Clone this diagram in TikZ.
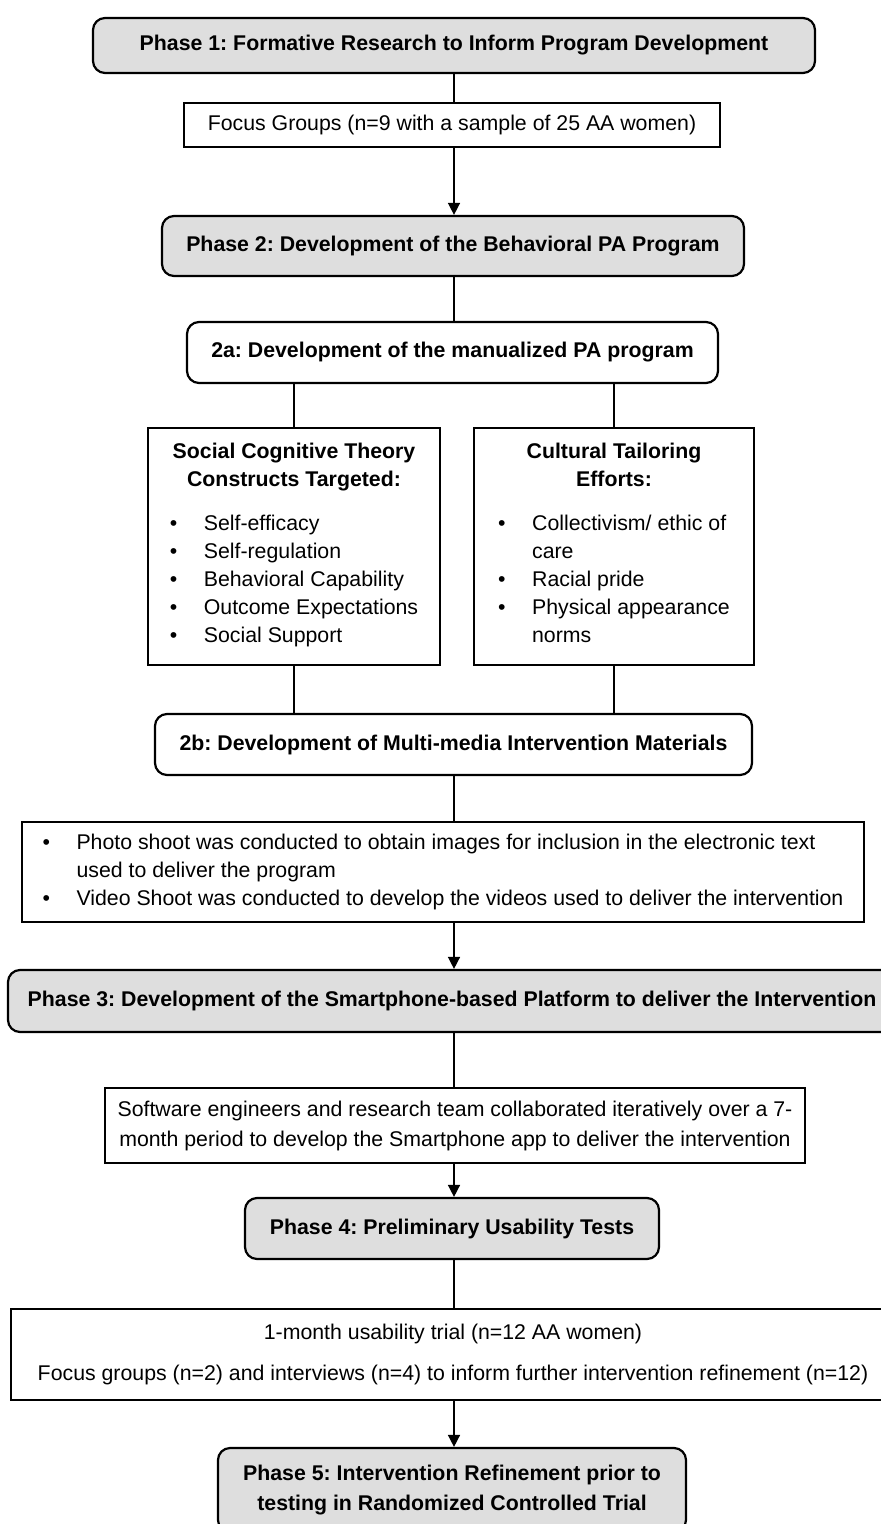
\documentclass[tikz,border=0pt]{standalone}
\usepackage{fontspec}
\setmainfont{Liberation Sans}
\usetikzlibrary{arrows.meta}
\frenchspacing
\tikzset{
  plainbox/.style={draw,line width=1.1pt,align=center,inner sep=3pt},
  phasebox/.style={plainbox,rounded corners=6pt,fill=black!13,font=\fontsize{10.65}{15}\selectfont\bfseries},
}
\newcommand{\itm}[1]{\makebox[17pt][l]{\textbullet}#1}
\begin{document}
\begin{tikzpicture}[x=0.5pt,y=-0.5pt,>={Triangle[length=6pt,width=6pt]},line width=0.75pt,
  font=\fontsize{10.65}{14}\selectfont]
\useasboundingbox (0,0) rectangle (881,1524);
\coordinate (spine) at (454,0);
% phase 1
\node[phasebox,minimum width=361pt,minimum height=27.5pt] (phaseA) at (454,45.5) {Phase 1: Formative Research to Inform Program Development};
\node[plainbox,minimum width=268pt,minimum height=22pt] (focus) at (452,125) {Focus Groups (n=9 with a sample of 25 AA women)};
% phase 2
\node[phasebox,minimum width=291pt,minimum height=30pt] (phaseB) at (453,246) {Phase 2: Development of the Behavioral PA Program};
\node[phasebox,fill=white,minimum width=265.5pt,minimum height=30.5pt] (devA) at (452.5,352.5) {2a: Development of the manualized PA program};
\node[plainbox,minimum width=146pt,minimum height=118.5pt] (sct) at (294,546.5) {\textbf{Social Cognitive Theory}\\\textbf{Constructs Targeted:}\\[8pt]
  \begin{tabular}[t]{@{}l@{}}\itm{Self-efficacy}\\\itm{Self-regulation}\\\itm{Behavioral Capability}\\\itm{Outcome Expectations}\\\itm{Social Support}\end{tabular}};
\node[plainbox,minimum width=140pt,minimum height=118.5pt] (cult) at (614,546.5) {\textbf{Cultural Tailoring}\\\textbf{Efforts:}\\[8pt]
  \begin{tabular}[t]{@{}l@{}}\itm{Collectivism/ ethic of}\\\hspace*{17pt}care\\\itm{Racial pride}\\\itm{Physical appearance}\\\hspace*{17pt}norms\end{tabular}};
\node[phasebox,fill=white,minimum width=298.5pt,minimum height=30.5pt] (devB) at (453.5,744.5) {2b: Development of Multi-media Intervention Materials};
\node[plainbox,align=left,minimum width=421pt,minimum height=50pt] (media) at (443,872) {\itm{Photo shoot was conducted to obtain images for inclusion in the electronic text}\\
  \hspace*{17pt}used to deliver the program\\\itm{Video Shoot was conducted to develop the videos used to deliver the intervention}};
% phase 3
\node[phasebox,minimum width=444pt,minimum height=31pt] (phaseC) at (452,1001) {Phase 3: Development of the Smartphone-based Platform to deliver the Intervention};
\node[plainbox,minimum width=350pt,minimum height=37.5pt,font=\fontsize{10.65}{15}\selectfont] (soft) at (455,1125.5) {Software engineers and research team collaborated iteratively over a 7-\\month period to develop the Smartphone app to deliver the intervention};
% phase 4
\node[phasebox,minimum width=207pt,minimum height=30.5pt] (phaseD) at (452,1228.5) {Phase 4: Preliminary Usability Tests};
\node[plainbox,minimum width=442pt,minimum height=45.5pt] (trial) at (453,1354.5) {1-month usability trial (n=12 AA women)\\[6.5pt]Focus groups (n=2) and interviews (n=4) to inform further intervention refinement (n=12)};
% phase 5
\node[phasebox,minimum width=234pt,minimum height=42pt] (phaseE) at (452,1490) {Phase 5: Intervention Refinement prior to\\testing in Randomized Controlled Trial};
% connectors
\draw (spine |- phaseA.south) -- (spine |- focus.north);
\draw[->] (spine |- focus.south) -- (spine |- phaseB.north);
\draw (spine |- phaseB.south) -- (spine |- devA.north);
\draw (sct.north |- devA.south) -- (sct.north);
\draw (cult.north |- devA.south) -- (cult.north);
\draw (sct.south) -- (sct.south |- devB.north);
\draw (cult.south) -- (cult.south |- devB.north);
\draw (spine |- devB.south) -- (spine |- media.north);
\draw[->] (spine |- media.south) -- (spine |- phaseC.north);
\draw (spine |- phaseC.south) -- (spine |- soft.north);
\draw[->] (spine |- soft.south) -- (spine |- phaseD.north);
\draw (spine |- phaseD.south) -- (spine |- trial.north);
\draw[->] (spine |- trial.south) -- (spine |- phaseE.north);
\end{tikzpicture}
\end{document}
